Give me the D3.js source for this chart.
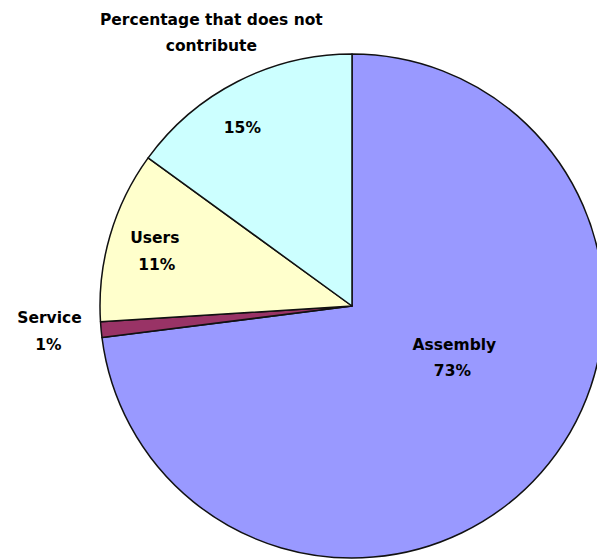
<!DOCTYPE html>
<html>
<head>
<meta charset="utf-8">
<script src="https://cdn.jsdelivr.net/npm/d3@7"></script>
<style>
  html, body { margin: 0; padding: 0; background: #fff; }
  svg { display: block; }
  text { font-family: "DejaVu Sans", Verdana, sans-serif; font-weight: bold; font-size: 15.5px; fill: #000; }
</style>
</head>
<body>
<svg id="chart" width="597" height="560"></svg>
<script>
const categories = ["Assembly", "Service", "Users", "Percentage that does not contribute"];
const values = [73, 1, 11, 15];
const valueLabels = ["73%", "1%", "11%", "15%"];
const colors = ["#9999FF", "#993366", "#FFFFCC", "#CCFFFF"];
const nameLines = [["Assembly"], ["Service"], ["Users"], ["Percentage that does not", "contribute"]];

const W = 597, H = 560;
const cx = 352, cy = 306, R = 252;
const svg = d3.select("#chart");
const g = svg.append("g").attr("transform", `translate(${cx},${cy})`);

const pie = d3.pie().sort(null).value(d => d)(values);
const arc = d3.arc().innerRadius(0).outerRadius(R);
const labelArc = d3.arc().innerRadius(R * 0.6).outerRadius(R * 0.6);

g.selectAll("path.slice").data(pie).join("path")
  .attr("class", "slice")
  .attr("d", arc)
  .attr("fill", (d, i) => colors[i])
  .attr("stroke", "#111")
  .attr("stroke-width", 1.5)
  .attr("stroke-linejoin", "round");

// label offsets from the label-arc centroid (name baseline, value baseline)
const nameOff = [[-11, -56], [-152, 3], [-52, -21], [-72, -146]];
const valOff = [[-13, -30], [-153, 30], [-50, 6], [-41, -38]];
const lineH = 26;

pie.forEach((d, i) => {
  const [x, y] = labelArc.centroid(d);
  nameLines[i].forEach((ln, j) => {
    g.append("text").attr("text-anchor", "middle")
      .attr("x", x + nameOff[i][0]).attr("y", y + nameOff[i][1] + j * lineH)
      .text(ln);
  });
  g.append("text").attr("text-anchor", "middle")
    .attr("x", x + valOff[i][0]).attr("y", y + valOff[i][1])
    .text(valueLabels[i]);
});
</script>
</body>
</html>
